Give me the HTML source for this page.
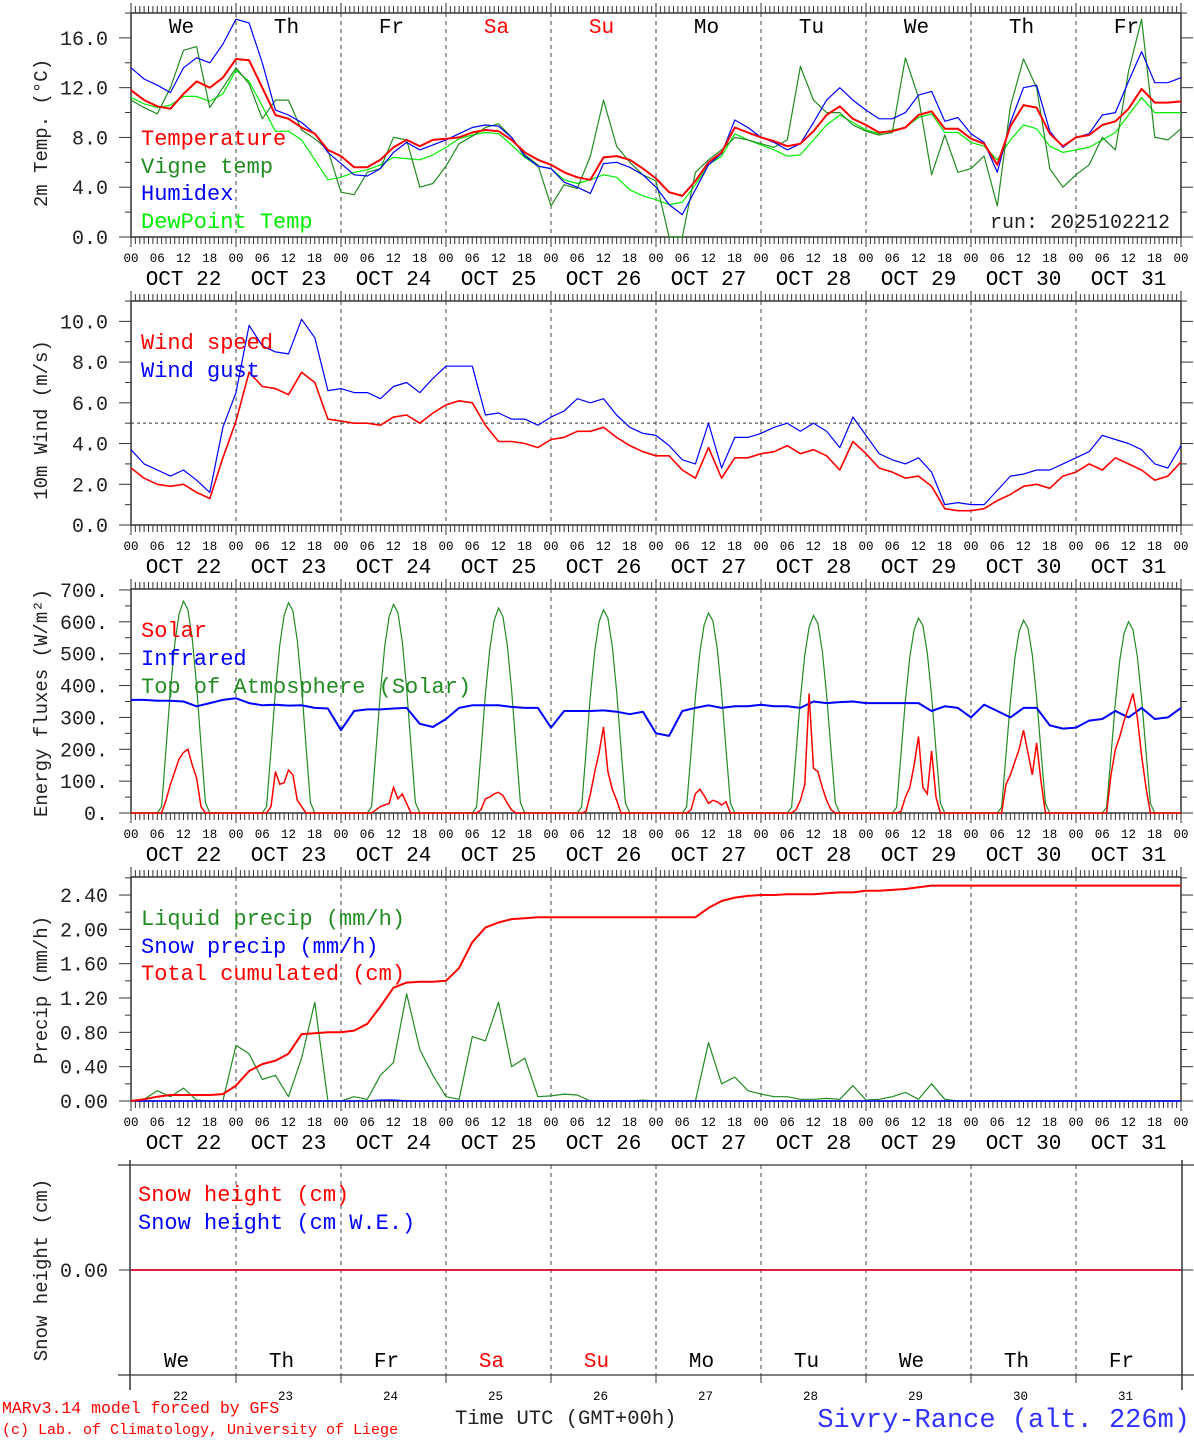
<!DOCTYPE html>
<html><head><meta charset="utf-8"><style>
html,body{margin:0;padding:0;background:#fff}
svg{display:block}
text{font-family:"Liberation Mono","DejaVu Sans Mono",monospace}
</style></head><body>
<svg id="chart" xmlns="http://www.w3.org/2000/svg" width="1194" height="1440" viewBox="0 0 1194 1440">
<rect width="1194" height="1440" fill="#fff"/>
<g id="layer"></g>
</svg>
<script>
// ---- data (3-hourly, 81 points from Oct 22 00 UTC) ----
const dayNames = ["We","Th","Fr","Sa","Su","Mo","Tu","We","Th","Fr"];
const dateLabels = ["OCT 22","OCT 23","OCT 24","OCT 25","OCT 26","OCT 27","OCT 28","OCT 29","OCT 30","OCT 31"];
const dayNumbers = ["22","23","24","25","26","27","28","29","30","31"];
const hourLabels = ["00","06","12","18"];
const temperature = [11.8,11.0,10.5,10.3,11.5,12.5,12.0,12.8, 14.3,14.2,12.0,9.8,9.5,8.8,8.3,7.0, 6.5,5.6,5.6,6.2,7.2,7.8,7.3,7.8, 7.9,8.0,8.4,8.6,8.5,7.8,6.8,6.2, 5.8,5.2,4.8,4.6,6.4,6.5,6.2,5.5, 4.7,3.6,3.3,4.5,6.0,6.8,8.8,8.4, 8.0,7.7,7.3,7.5,8.5,9.8,10.5,9.5, 9.0,8.4,8.5,8.8,9.8,10.1,8.7,8.7, 7.9,7.5,5.8,8.9,10.6,10.4,8.3,7.3, 8.0,8.2,9.0,9.3,10.3,11.9,10.8,10.8,10.9];
const humidex = [13.6,12.7,12.2,11.6,13.6,14.4,14.0,15.5, 17.5,17.2,14.0,10.2,9.8,9.2,8.3,6.8, 5.9,5.0,4.9,5.5,6.8,7.6,7.0,7.4, 7.8,8.3,8.8,9.0,8.9,8.0,6.5,5.7, 5.5,4.4,4.0,3.5,5.9,6.0,5.6,5.0, 4.0,2.6,1.8,3.8,5.8,6.7,9.4,8.8, 8.0,7.6,7.0,7.5,9.2,11.0,12.0,11.0, 10.2,9.5,9.5,10.0,11.4,11.7,9.3,9.6, 8.3,7.6,5.2,9.2,12.0,12.2,8.5,7.2, 8.0,8.3,9.8,10.0,12.5,14.9,12.4,12.4,12.8];
const vigneTemp = [11.0,10.4,9.9,12.0,15.0,15.3,10.4,12.0, 13.6,12.3,9.5,11.0,11.0,8.6,7.9,7.0, 3.6,3.4,5.2,5.5,8.0,7.8,4.0,4.3, 5.7,7.5,8.1,8.8,9.1,8.0,6.6,5.8, 2.5,4.2,3.9,6.5,11.0,7.3,6.0,5.0, 4.5,0.0,0.0,5.2,6.2,7.0,8.0,7.8, 7.5,7.2,7.8,13.7,11.0,10.0,10.0,9.0, 8.5,8.2,8.4,14.4,11.2,5.0,8.2,5.2, 5.5,6.5,2.5,10.5,14.3,12.0,5.5,4.0, 5.0,5.8,8.0,7.0,13.3,17.5,8.0,7.8,8.7];
const dewPoint = [11.2,10.7,10.4,10.6,11.3,11.3,10.9,11.5, 13.4,12.5,10.5,8.5,8.5,7.8,6.2,4.6, 4.8,5.2,5.4,5.8,6.4,6.3,6.2,6.6, 7.2,7.9,8.2,8.4,8.3,7.4,6.4,5.7, 5.5,4.6,4.3,4.6,5.0,4.8,3.8,3.3, 3.0,2.6,2.8,4.2,5.8,6.5,8.3,7.8, 7.4,7.0,6.5,6.6,7.8,9.0,9.8,9.2, 8.6,8.3,8.6,8.8,9.6,9.9,8.4,8.4, 7.6,7.3,6.2,7.8,9.0,8.7,7.3,6.8, 7.0,7.2,7.8,8.4,9.8,11.2,10.0,10.0,10.0];
const windSpeed = [2.8,2.3,2.0,1.9,2.0,1.6,1.3,3.3, 5.1,7.5,6.8,6.7,6.4,7.5,7.0,5.2, 5.1,5.0,5.0,4.9,5.3,5.4,5.0,5.5, 5.9,6.1,6.0,4.9,4.1,4.1,4.0,3.8, 4.2,4.3,4.6,4.6,4.8,4.3,3.9,3.6, 3.4,3.4,2.7,2.3,3.8,2.3,3.3,3.3, 3.5,3.6,3.9,3.5,3.7,3.4,2.7,4.1, 3.5,2.8,2.6,2.3,2.4,1.9,0.8,0.7, 0.7,0.8,1.2,1.5,1.9,2.0,1.8,2.4, 2.6,3.0,2.7,3.3,3.0,2.7,2.2,2.4,3.1];
const windGust = [3.7,3.0,2.7,2.4,2.7,2.2,1.6,4.8, 6.5,9.8,8.8,8.5,8.4,10.1,9.2,6.6, 6.7,6.5,6.5,6.2,6.8,7.0,6.5,7.2, 7.8,7.8,7.8,5.4,5.5,5.2,5.2,4.9, 5.3,5.6,6.2,6.0,6.2,5.4,4.8,4.5, 4.4,3.9,3.2,3.0,5.0,2.8,4.3,4.3, 4.5,4.8,5.0,4.6,5.0,4.6,3.8,5.3, 4.4,3.5,3.2,3.0,3.3,2.6,1.0,1.1, 1.0,1.0,1.7,2.4,2.5,2.7,2.7,3.0, 3.3,3.6,4.4,4.2,4.0,3.7,3.0,2.8,3.9];
const infrared = [355,355,352,352,350,335,345,355, 360,345,338,340,337,338,330,328, 260,320,325,325,328,330,280,270, 295,330,338,338,338,333,330,330, 268,320,320,320,322,318,310,318, 250,242,320,330,338,330,335,335, 340,335,335,330,350,345,348,350, 345,345,345,345,345,320,335,330, 300,340,320,300,330,330,275,265, 268,290,295,320,300,330,295,300,330];
// hourly daytime values, hours 06..18 of each day
const solarDay = [
 [0,0,40,90,130,170,190,200,150,110,20,0,0],
 [0,0,20,130,90,95,135,120,40,20,0,0,0],
 [0,0,10,20,25,30,80,45,60,30,0,0,0],
 [0,0,10,45,50,60,65,55,30,10,0,0,0],
 [0,0,5,60,130,190,270,130,75,40,0,0,0],
 [0,0,10,60,75,55,30,40,35,25,35,0,0],
 [0,0,10,40,90,375,140,130,80,40,10,0,0],
 [0,0,5,50,80,150,240,80,60,195,50,0,0],
 [0,0,90,120,160,200,260,190,120,220,100,0,0],
 [0,0,120,200,240,290,330,375,300,180,80,0,0]];
const toaDay = [
 [0,20,200,386,532,625,665,638,545,399,213,33,0],
 [0,20,198,383,528,620,660,634,541,396,211,33,0],
 [0,20,197,380,524,616,655,629,537,393,210,33,0],
 [0,19,193,373,514,604,643,617,527,386,206,32,0],
 [0,19,191,370,510,600,638,612,523,383,204,32,0],
 [0,19,188,364,502,590,628,603,515,377,201,31,0],
 [0,18,186,360,496,583,620,595,508,372,198,31,0],
 [0,18,184,355,490,575,612,588,502,367,196,31,0],
 [0,18,182,351,484,569,605,581,496,363,194,30,0],
 [0,18,180,348,480,564,600,576,492,360,192,30,0]];
const liquidPrecip = [0,0.02,0.12,0.05,0.15,0.01,0,0, 0.65,0.55,0.25,0.3,0.05,0.5,1.15,0, 0,0.05,0.02,0.3,0.45,1.25,0.6,0.3, 0.05,0.02,0.75,0.7,1.15,0.4,0.5,0.05, 0.06,0.08,0.07,0,0,0,0,0.01, 0,0,0,0,0.68,0.2,0.28,0.12, 0.08,0.05,0.05,0.02,0.02,0.03,0.02,0.18, 0.01,0.02,0.05,0.1,0.02,0.2,0.02,0, 0,0,0,0,0,0,0,0, 0,0,0,0,0,0,0,0,0];
const snowPrecip = [0,0,0,0,0,0,0,0, 0,0,0,0,0,0,0,0, 0,0,0,0.01,0.01,0,0,0, 0,0,0,0,0,0,0,0, 0,0,0,0,0,0,0,0, 0,0,0,0,0,0,0,0, 0,0,0,0,0,0,0,0, 0,0,0,0,0,0,0,0, 0,0,0,0,0,0,0,0, 0,0,0,0,0,0,0,0,0];
const totalCumul = [0,0.02,0.05,0.07,0.07,0.07,0.07,0.08, 0.18,0.35,0.43,0.47,0.55,0.78,0.79,0.80, 0.80,0.82,0.90,1.10,1.32,1.38,1.39,1.39, 1.40,1.55,1.85,2.02,2.08,2.12,2.13,2.14, 2.14,2.14,2.14,2.14,2.14,2.14,2.14,2.14, 2.14,2.14,2.14,2.14,2.25,2.33,2.37,2.39, 2.40,2.40,2.41,2.41,2.41,2.42,2.43,2.43, 2.45,2.45,2.46,2.47,2.49,2.51,2.51,2.51, 2.51,2.51,2.51,2.51,2.51,2.51,2.51,2.51, 2.51,2.51,2.51,2.51,2.51,2.51,2.51,2.51,2.51];
const snowHeight = [0,0,0,0,0,0,0,0,0,0,0,0,0,0,0,0,0,0,0,0,0,0,0,0,0,0,0,0,0,0,0,0,0,0,0,0,0,0,0,0,0,0,0,0,0,0,0,0,0,0,0,0,0,0,0,0,0,0,0,0,0,0,0,0,0,0,0,0,0,0,0,0,0,0,0,0,0,0,0,0,0];
const snowWE = [0,0,0,0,0,0,0,0,0,0,0,0,0,0,0,0,0,0,0,0,0,0,0,0,0,0,0,0,0,0,0,0,0,0,0,0,0,0,0,0,0,0,0,0,0,0,0,0,0,0,0,0,0,0,0,0,0,0,0,0,0,0,0,0,0,0,0,0,0,0,0,0,0,0,0,0,0,0,0,0,0];

const NS = "http://www.w3.org/2000/svg";
const L = document.getElementById('layer');
const X0 = 131, X1 = 1181;
function xh(h){ return X0 + h/240*(X1-X0); }
function mk(tag, attrs, parent){ const e=document.createElementNS(NS,tag); for(const k in attrs) e.setAttribute(k,attrs[k]); (parent||L).appendChild(e); return e; }
function txt(s,x,y,size,fill,anchor,name,extra){
  const t=mk('text',Object.assign({x:x,y:y,'font-size':size,fill:fill||'#000','text-anchor':anchor||'start'},extra||{}));
  t.textContent=s;
  
  
  return t;
}
function yScale(p){ return v => p.bottom - (v-p.vmin)/(p.vmax-p.vmin)*(p.bottom-p.top); }

const panels = [
 {top:13,bottom:237,vmin:0,vmax:18},
 {top:301,bottom:525,vmin:0,vmax:11},
 {top:589,bottom:813,vmin:0,vmax:703},
 {top:877,bottom:1101,vmin:0,vmax:2.61},
 {top:1165,bottom:1375,vmin:-1,vmax:1}
];

function frame(p, idx, majors, minors, fmt){
  const g=mk('g',{});
  
  
  const y=yScale(p);
  if(idx<4){
    mk('rect',{x:X0,y:p.top,width:X1-X0,height:p.bottom-p.top,fill:'none',stroke:'#333','stroke-width':1.5},g);
    for(let h=0;h<=240;h++){
      const x=xh(h), len=(h%24===0)?10:7;
      mk('line',{x1:x,x2:x,y1:p.top,y2:p.top-len,stroke:'#333','stroke-width':1},g);
      mk('line',{x1:x,x2:x,y1:p.bottom,y2:p.bottom+len,stroke:'#333','stroke-width':1},g);
    }
    for(let d=0;d<10;d++){
      for(let k=0;k<4;k++) txt(hourLabels[k], xh(24*d+6*k), p.bottom+25, 12.5, '#000','middle','hour-label');
      txt(dateLabels[d], xh(24*d+12), p.bottom+48, 21, '#000','middle','date-label');
    }
    txt("00", xh(240), p.bottom+25, 12.5, '#000','middle','hour-label');
  } else {
    mk('line',{x1:118,x2:1194,y1:p.top,y2:p.top,stroke:'#333','stroke-width':1.2},g);
    mk('line',{x1:118,x2:1194,y1:p.bottom,y2:p.bottom,stroke:'#333','stroke-width':1.2},g);
    mk('line',{x1:X0-1,x2:X0-1,y1:p.top-5,y2:p.bottom+15,stroke:'#333','stroke-width':1.5},g);
    mk('line',{x1:X1+1,x2:X1+1,y1:p.top-5,y2:p.bottom+15,stroke:'#333','stroke-width':1.5},g);
    for(let d=1;d<10;d++) mk('line',{x1:xh(24*d),x2:xh(24*d),y1:p.bottom,y2:p.bottom+8,stroke:'#333'},g);
    for(let d=0;d<10;d++) txt(dayNumbers[d], xh(24*d+12)-3, p.bottom+25, 12.5,'#000','middle','day-number');
  }
  for(let d=1;d<10;d++) mk('line',{x1:xh(24*d),x2:xh(24*d),y1:p.top,y2:p.bottom,stroke:'#444','stroke-width':1,'stroke-dasharray':'4,4'},g);
  minors.forEach(v=>{ const yy=y(v);
    mk('line',{x1:X0-6,x2:X0,y1:yy,y2:yy,stroke:'#333'},g); mk('line',{x1:X1,x2:X1+6,y1:yy,y2:yy,stroke:'#333'},g); });
  majors.forEach(v=>{ const yy=y(v);
    mk('line',{x1:X0-12,x2:X0,y1:yy,y2:yy,stroke:'#333'},g); mk('line',{x1:X1,x2:X1+12,y1:yy,y2:yy,stroke:'#333'},g);
    txt(fmt(v), 108, yy+7, 20, '#222','end','y-tick-label'); });
}
function series(p, arr, color, w, name){
  const y=yScale(p);
  const pts=arr.map((v,i)=>xh(3*i).toFixed(1)+','+y(v).toFixed(1)).join(' ');
  const e=mk('polyline',{points:pts,fill:'none',stroke:color,'stroke-width':w,'stroke-linejoin':'round'});
  
  
}
function daySeries(p, rows, color, w, name){
  const y=yScale(p); const pts=[];
  for(let h=0;h<=240;h++){
    const d=Math.floor(h/24), hh=h%24; let v=0;
    if(d<10 && hh>=6 && hh<=18) v=rows[d][hh-6];
    pts.push(xh(h).toFixed(1)+','+y(v).toFixed(1));
  }
  const e=mk('polyline',{points:pts.join(' '),fill:'none',stroke:color,'stroke-width':w});
  
  
}
function ytitle(s,cy){ txt(s,0,0,19,'#222','middle','y-axis-title',{transform:'translate(47,'+cy+') rotate(-90)'}); }
function range(a,b,s){ const r=[]; for(let v=a; v<=b+1e-9; v+=s) r.push(+v.toFixed(4)); return r; }

// Panel 1
frame(panels[0],0,range(0,16,4),range(2,18,4),v=>v.toFixed(1));
for(let d=0;d<10;d++) txt(dayNames[d], xh(24*d+12)-2, 33, 21, (d===3||d===4)?'#f00':'#000','middle','day-name');
series(panels[0],dewPoint,'#00ee00',1.2,'dewpoint-line');
series(panels[0],vigneTemp,'#228b22',1.2,'vigne-temp-line');
series(panels[0],humidex,'#0000ff',1.2,'humidex-line');
series(panels[0],temperature,'#ff0000',2,'temperature-line');
txt("Temperature",141,145,22,'#f00','start','legend-temperature');
txt("Vigne temp",141,173,22,'#228b22','start','legend-vigne-temp');
txt("Humidex",141,200,22,'#00f','start','legend-humidex');
txt("DewPoint Temp",141,228,22,'#0e0','start','legend-dewpoint');
txt("run: 2025102212",1170,228,20,'#222','end','run-label');
ytitle("2m Temp. (\u00B0C)",133);

// Panel 2
frame(panels[1],1,range(0,10,2),range(1,11,2),v=>v.toFixed(1));
const y2=yScale(panels[1]);
const thr=mk('line',{x1:X0,x2:X1,y1:y2(5),y2:y2(5),stroke:'#333','stroke-dasharray':'3,3'});


series(panels[1],windGust,'#0000ff',1.2,'wind-gust-line');
series(panels[1],windSpeed,'#ff0000',1.6,'wind-speed-line');
txt("Wind speed",141,349,22,'#f00','start','legend-wind-speed');
txt("Wind gust",141,377,22,'#00f','start','legend-wind-gust');
ytitle("10m Wind (m/s)",420);

// Panel 3
frame(panels[2],2,range(0,700,100),range(50,650,100),v=>v.toFixed(0)+'.');
daySeries(panels[2],toaDay,'#228b22',1.2,'toa-solar-line');
series(panels[2],infrared,'#0000ff',2,'infrared-line');
daySeries(panels[2],solarDay,'#ff0000',1.5,'solar-line');
txt("Solar",141,637,22,'#f00','start','legend-solar');
txt("Infrared",141,665,22,'#00f','start','legend-infrared');
txt("Top of Atmosphere (Solar)",141,693,22,'#228b22','start','legend-toa');
ytitle("Energy fluxes (W/m\u00B2)",703);

// Panel 4
frame(panels[3],3,range(0,2.4,0.4),range(0.2,2.6,0.4),v=>v.toFixed(2));
series(panels[3],liquidPrecip,'#228b22',1.2,'liquid-precip-line');
series(panels[3],snowPrecip,'#0000ff',1.5,'snow-precip-line');
series(panels[3],totalCumul,'#ff0000',2,'total-cumulated-line');
txt("Liquid precip (mm/h)",141,925,22,'#228b22','start','legend-liquid-precip');
txt("Snow precip (mm/h)",141,953,22,'#00f','start','legend-snow-precip');
txt("Total cumulated (cm)",141,980,22,'#f00','start','legend-total-cumulated');
ytitle("Precip (mm/h)",990);

// Panel 5
frame(panels[4],4,[0],[],v=>v.toFixed(2));
series(panels[4],snowWE,'#0000ff',1.5,'snow-we-line');
series(panels[4],snowHeight,'#ff0000',1.5,'snow-height-line');
for(let d=0;d<10;d++) txt(dayNames[d], xh(24*d+12)-7, 1367, 21, (d===3||d===4)?'#f00':'#000','middle','day-name-bottom');
txt("Snow height (cm)",138,1201,22,'#f00','start','legend-snow-height');
txt("Snow height (cm W.E.)",138,1229,22,'#00f','start','legend-snow-we');
ytitle("Snow height (cm)",1270);

// Footer
txt("MARv3.14 model forced by GFS",2,1413,16.5,'#f00','start','model-credit');
txt("(c) Lab. of Climatology, University of Liege",2,1434,15,'#f00','start','lab-credit');
txt("Time UTC (GMT+00h)",455,1424,20.5,'#222','start','x-axis-title');
txt("Sivry-Rance (alt. 226m)",1190,1427,27,'#3333ff','end','location-title');
</script>
</body></html>
